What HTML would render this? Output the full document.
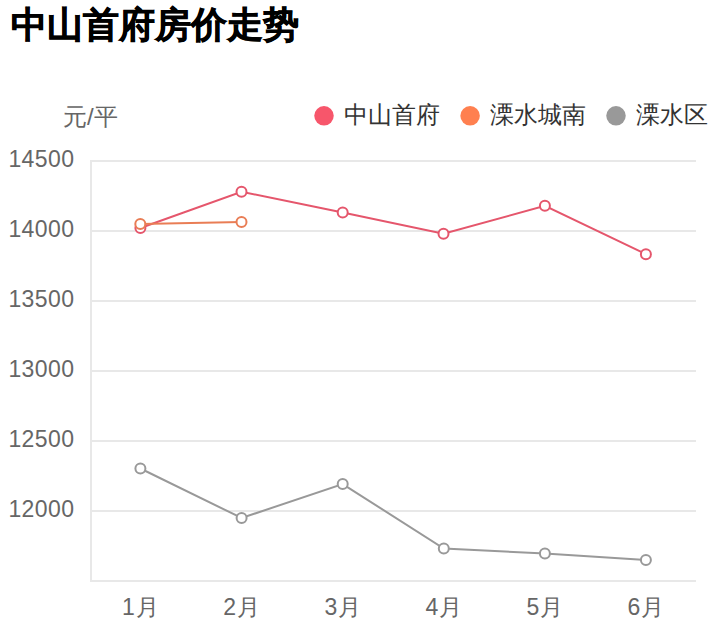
<!DOCTYPE html>
<html><head><meta charset="utf-8">
<style>
html,body{margin:0;padding:0;background:#fff;width:718px;height:640px;overflow:hidden}
svg{display:block;font-family:"Liberation Sans",sans-serif}
</style></head><body>
<svg width="718" height="640" viewBox="0 0 718 640" xmlns="http://www.w3.org/2000/svg">
<text x="10.5" y="37" font-size="36" font-weight="bold" fill="#000" stroke="#000" stroke-width="0.7">中山首府房价走势</text>
<text x="63" y="125" font-size="24" fill="#666">元/平</text>
<circle cx="324" cy="115.8" r="9.75" fill="#f7566b"/>
<text x="344" y="123" font-size="24" fill="#333">中山首府</text>
<circle cx="470.1" cy="115.8" r="9.75" fill="#ff8050"/>
<text x="490" y="123" font-size="24" fill="#333">溧水城南</text>
<circle cx="616" cy="115.8" r="9.75" fill="#999"/>
<text x="636" y="123" font-size="24" fill="#333">溧水区</text>
<g fill="#e8e8e8">
<rect x="90" y="160" width="606" height="2"/>
<rect x="90" y="230" width="606" height="2"/>
<rect x="90" y="300" width="606" height="2"/>
<rect x="90" y="370" width="606" height="2"/>
<rect x="90" y="440" width="606" height="2"/>
<rect x="90" y="510" width="606" height="2"/>
<rect x="90" y="580" width="606" height="2"/>
<rect x="90" y="160" width="2" height="422"/>
</g>
<g font-size="23" fill="#666" text-anchor="end" letter-spacing="0.4">
<text x="74.4" y="167">14500</text>
<text x="74.4" y="237">14000</text>
<text x="74.4" y="307">13500</text>
<text x="74.4" y="377">13000</text>
<text x="74.4" y="447">12500</text>
<text x="74.4" y="517">12000</text>
</g>
<g font-size="23" fill="#666" text-anchor="middle" letter-spacing="1">
<text x="141.0" y="615">1月</text>
<text x="242.1" y="615">2月</text>
<text x="343.3" y="615">3月</text>
<text x="444.4" y="615">4月</text>
<text x="545.5" y="615">5月</text>
<text x="646.5" y="615">6月</text>
</g>
<g fill="none" stroke-width="2">
<polyline stroke="#e5566c" points="140.4,228 241.5,191.7 342.7,212.5 443.5,233.8 544.9,205.8 645.9,254.2"/>
<g stroke="#e5566c" fill="#fff">
<circle cx="140.4" cy="228" r="5"/><circle cx="241.5" cy="191.7" r="5"/><circle cx="342.7" cy="212.5" r="5"/><circle cx="443.5" cy="233.8" r="5"/><circle cx="544.9" cy="205.8" r="5"/><circle cx="645.9" cy="254.2" r="5"/>
</g>
<polyline stroke="#e97d55" points="140.3,223.9 241.5,221.9"/>
<g stroke="#e97d55" fill="#fff">
<circle cx="140.3" cy="223.9" r="5"/><circle cx="241.5" cy="221.9" r="5"/>
</g>
<polyline stroke="#999" points="140.4,468.5 241.6,518 342.7,484.1 443.8,548.5 544.9,553.5 645.9,559.9"/>
<g stroke="#999" fill="#fff">
<circle cx="140.4" cy="468.5" r="5"/><circle cx="241.6" cy="518" r="5"/><circle cx="342.7" cy="484.1" r="5"/><circle cx="443.8" cy="548.5" r="5"/><circle cx="544.9" cy="553.5" r="5"/><circle cx="645.9" cy="559.9" r="5"/>
</g>
</g>
</svg>
</body></html>
